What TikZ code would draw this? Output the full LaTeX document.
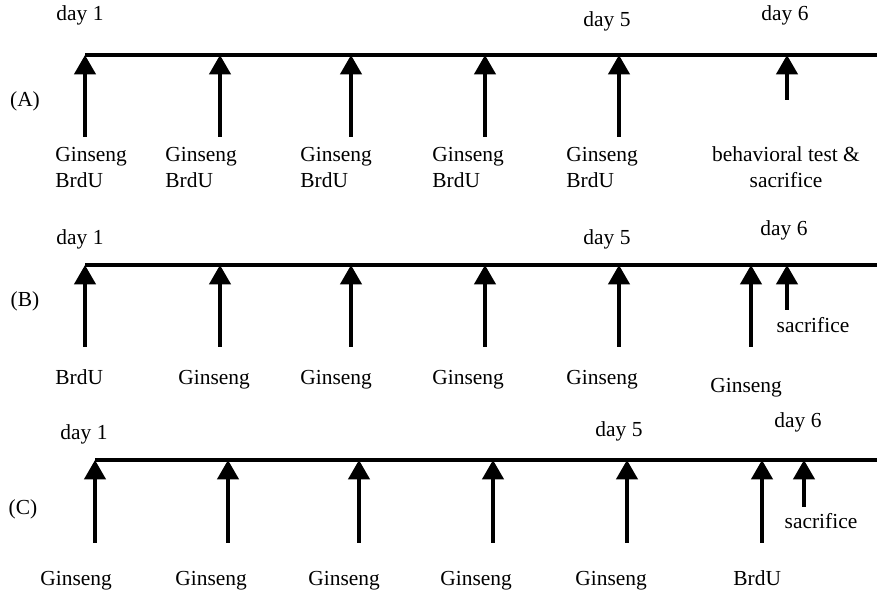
\documentclass[tikz,border=0pt]{standalone}
\usepackage{fontspec}
\setmainfont{Liberation Serif}
\usetikzlibrary{arrows.meta}

\begin{document}
\begin{tikzpicture}[x=0.02cm, y=-0.02cm,
    font=\fontsize{12.2}{14}\selectfont,
    axis/.style={black, line width=2pt},
    dose/.style={black, line width=2.2pt, -{Triangle[length=11pt, width=12pt]}},
    lbl/.style={inner sep=0pt, anchor=mid west, yshift=-1.5pt},
    tag/.style={inner sep=0pt, anchor=mid, yshift=-1.5pt}]
\useasboundingbox (0,0) rectangle (877,594);

% (A)
\coordinate (startA) at (85,55);
\coordinate (endA) at (877,55);
\draw[axis] (startA) -- (endA);
\node[tag] (panelA) at (25,100) {(A)};
\node[tag] (dayA1) at (80,14) {day 1};
\node[tag] (dayA5) at (607,20) {day 5};
\node[tag] (dayA6) at (785,14) {day 6};
\foreach \x [count=\i] in {85,220,351,485,619} {
    \coordinate (tipA\i) at (\x,55);
    \coordinate (tailA\i) at (\x,137);
    \draw[dose] (tailA\i) -- (tipA\i);
}
\coordinate (tipA6) at (787,55);
\coordinate (tailA6) at (787,100);
\draw[dose] (tailA6) -- (tipA6);
\foreach \x [count=\i] in {55,165,300,432,566} {
    \node[lbl] (ginA\i) at (\x,155) {Ginseng};
    \node[lbl] (brdA\i) at (\x,181) {BrdU};
}
\node[tag] (testA) at (786,155) {behavioral test \&};
\node[tag] (sacA) at (786,181) {sacrifice};

% (B)
\coordinate (startB) at (85,265);
\coordinate (endB) at (877,265);
\draw[axis] (startB) -- (endB);
\node[tag] (panelB) at (25,300) {(B)};
\node[tag] (dayB1) at (80,238) {day 1};
\node[tag] (dayB5) at (607,238) {day 5};
\node[tag] (dayB6) at (784,229) {day 6};
\foreach \x [count=\i] in {85,220,351,485,619,751} {
    \coordinate (tipB\i) at (\x,265);
    \coordinate (tailB\i) at (\x,347);
    \draw[dose] (tailB\i) -- (tipB\i);
}
\coordinate (tipB7) at (787,265);
\coordinate (tailB7) at (787,310);
\draw[dose] (tailB7) -- (tipB7);
\node[lbl] (brdB1) at (55,378) {BrdU};
\foreach \x [count=\i from 2] in {178,300,432,566} {
    \node[lbl] (ginB\i) at (\x,378) {Ginseng};
}
\node[lbl] (ginB6) at (710,386) {Ginseng};
\node[tag] (sacB) at (813,326) {sacrifice};

% (C)
\coordinate (startC) at (95,460);
\coordinate (endC) at (877,460);
\draw[axis] (startC) -- (endC);
\node[tag] (panelC) at (23,508) {(C)};
\node[tag] (dayC1) at (84,433) {day 1};
\node[tag] (dayC5) at (619,430) {day 5};
\node[tag] (dayC6) at (798,421) {day 6};
\foreach \x [count=\i] in {95,228,359,493,627,762} {
    \coordinate (tipC\i) at (\x,460);
    \coordinate (tailC\i) at (\x,543);
    \draw[dose] (tailC\i) -- (tipC\i);
}
\coordinate (tipC7) at (804,460);
\coordinate (tailC7) at (804,507);
\draw[dose] (tailC7) -- (tipC7);
\foreach \x [count=\i] in {40,175,308,440,575} {
    \node[lbl] (ginC\i) at (\x,579) {Ginseng};
}
\node[lbl] (brdC6) at (733,579) {BrdU};
\node[tag] (sacC) at (821,522) {sacrifice};
\end{tikzpicture}
\end{document}
